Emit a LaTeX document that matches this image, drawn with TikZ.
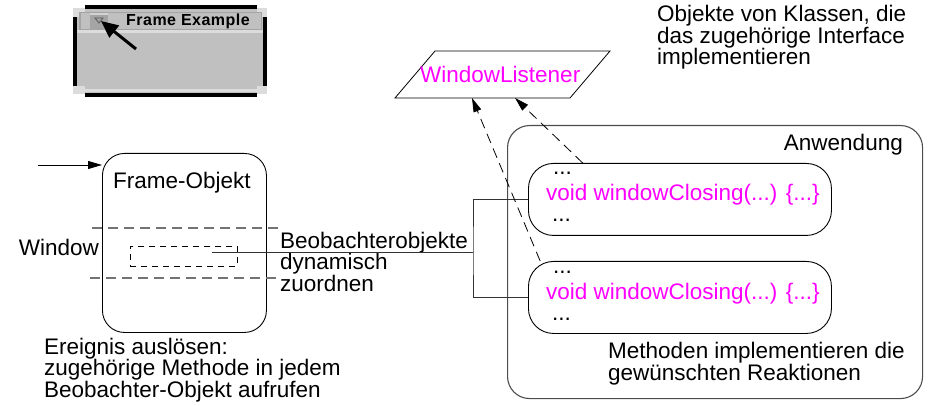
\documentclass[tikz,border=0pt]{standalone}
\usepackage{fontspec}
\setmainfont{Liberation Sans}
\newfontfamily\captionfont{Liberation Sans}[LetterSpace=3]
\usetikzlibrary{arrows.meta,calc}

\definecolor{winbody}{HTML}{C0C0C0}
\definecolor{winlight}{HTML}{DCDCDC}
\definecolor{windark}{HTML}{A4A4A4}
\definecolor{codepink}{HTML}{FF00FF}

\tikzset{
  txt/.style={inner sep=0pt, anchor=base west, align=left,
              font=\fontsize{22.5}{21.5}\selectfont},
  code/.style={txt, text=codepink},
  objbox/.style={draw, rounded corners=22pt, line width=0.9pt, inner sep=0pt, anchor=north west},
  appbox/.style={draw=black!70, rounded corners=22pt, line width=1.1pt, inner sep=0pt, anchor=north west},
  methbox/.style={draw, rounded corners=25pt, line width=0.9pt, inner sep=0pt, anchor=north west,
                  minimum width=303pt, minimum height=72pt},
  link/.style={draw=black!80, line width=1pt},
  plainarrow/.style={draw, line width=0.9pt, -{Triangle[length=14pt,width=8pt]}},
  dashedarrow/.style={draw, dash pattern=on 10pt off 6pt, line width=0.8pt,
                      -{Triangle[length=14pt,width=8pt]}},
  zone/.style={draw=black!55, dash pattern=on 10pt off 6pt, line width=1.1pt},
  region/.style={draw, dash pattern=on 6pt off 5pt, line width=0.8pt, inner sep=0pt, anchor=north west},
}

\begin{document}
\begin{tikzpicture}[x=1pt,y=-1pt]
\useasboundingbox (0,0) rectangle (932,406);

% ---- small screenshot of a window with its close button ----
\fill[winbody] (77,9) rectangle (263,93);
\fill[black] (73,17) rectangle (77,86);
\fill[black] (263,17) rectangle (267,86);
\fill[black] (85,5) rectangle (257,9);
\fill[black] (85,93) rectangle (257,97);
\fill[winlight] (73,8) rectangle (85,17);
\fill[winlight] (257,8) rectangle (267,17);
\fill[winlight] (73,86) rectangle (85,94);
\fill[winlight] (257,86) rectangle (267,94);
\fill[windark] (79,12) rectangle (262,30);
\fill[winbody] (81,13) rectangle (261,29);
\fill[winlight] (77,30) rectangle (263,33);
\fill[winlight] (77,89) rectangle (263,92);
\fill[windark] (90,13) rectangle (108,29);
\fill[winbody!70!white] (90,13) rectangle (108,15);
\draw[black!65, line width=0.8pt] (95,18) -- (103,18) -- (99,23) -- cycle;
\node[inner sep=0pt, anchor=base west, font=\captionfont\bfseries\fontsize{16}{16}\selectfont]
  (title) at (126,26) {Frame Example};
\draw[line width=3pt, -{Triangle[length=17pt,width=15pt]}] (136,49) -- (101,21);

% ---- interface ----
\coordinate (pbl) at (395,98);
\coordinate (pbr) at (570,98);
\coordinate (ptr) at (610,51);
\coordinate (ptl) at (435,51);
\draw[line width=0.8pt] (pbl) -- (pbr) -- (ptr) -- (ptl) -- cycle;
\node[code] (wl) at (420,83) {WindowListener};

% ---- frame object ----
\node[objbox, minimum width=164pt, minimum height=179pt] (frame) at (102,153) {};
\node[txt] (frametxt) at (113,189) {Frame-Objekt};
\coordinate (in) at (38,165);
\draw[plainarrow] (in) -- (in -| frame.west);

\node[txt, anchor=base east] (win) at (99,255) {Window};
\draw[zone] (92,228) -- (280,228);
\draw[zone] (90,278) -- (280,278);
\node[region, minimum width=107pt, minimum height=20pt] (obs) at (130,246) {};

% multi-line texts are placed by the baseline of their last line
\node[txt] (assign) at (280,291) {Beobachterobjekte\\dynamisch\\zuordnen};

% ---- application ----
\node[appbox, minimum width=415pt, minimum height=273pt] (app) at (507,125) {};
\node[txt, anchor=base east] (apptxt) at (903,151) {Anwendung};

\node[methbox] (m1) at (528,163) {};
\node[txt] (m1a) at (553,175) {...};
\node[code] (m1b) at (546,201) {void windowClosing(...) \{...\}};
\node[txt] (m1c) at (552,222) {...};

\node[methbox] (m2) at (528,261) {};
\node[txt] (m2a) at (553,273) {...};
\node[code] (m2b) at (546,299) {void windowClosing(...) \{...\}};
\node[txt] (m2c) at (552,320) {...};

\node[txt] (react) at (608,380) {Methoden implementieren die\\gewünschten Reaktionen};

% ---- registration of the observers ----
\coordinate (src) at (212,253);
\coordinate (j) at (473,253);
\draw[link] (src) -- (j);
\draw[link] (m1.west) -| (j) |- (m2.west);

\draw[dashedarrow] ($(m2.north west)!0.04!(m2.north east)$) -- ($(pbl)!0.44!(pbr)$);
\draw[dashedarrow] ($(m1.north west)!0.18!(m1.north east)$) -- ($(pbl)!0.686!(pbr)$);

% ---- notes ----
\node[txt] (fire) at (44,397) {Ereignis auslösen:\\zugehörige Methode in jedem\\Beobachter-Objekt aufrufen};
\node[txt] (types) at (657,65) {Objekte von Klassen, die\\das zugehörige Interface\\implementieren};
\end{tikzpicture}
\end{document}
